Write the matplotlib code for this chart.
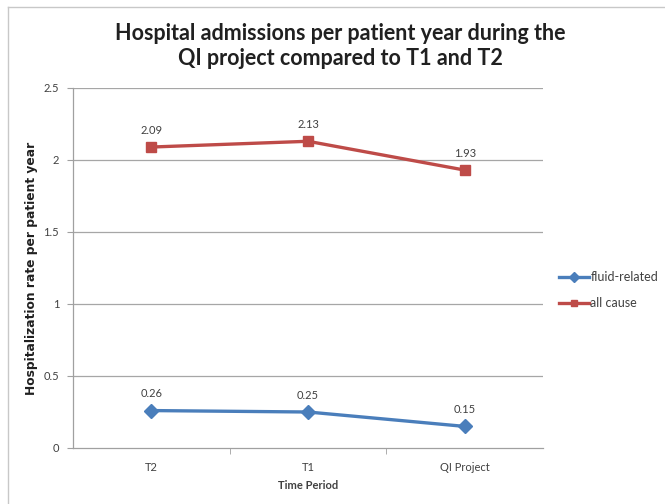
import matplotlib
matplotlib.use("Agg")
import matplotlib.pyplot as plt
from matplotlib.lines import Line2D

categories = ["T2", "T1", "QI Project"]
fluid_related = [0.26, 0.25, 0.15]
all_cause = [2.09, 2.13, 1.93]
y_ticks = [0, 0.5, 1, 1.5, 2, 2.5]
y_tick_labels = ["0", "0.5", "1", "1.5", "2", "2.5"]

title = "Hospital admissions per patient year during the\nQI project compared to T1 and T2"
xlabel = "Time Period"
ylabel = "Hospitalization rate per patient year"

plt.rcParams['font.family'] = ['Lato', 'DejaVu Sans']

fig = plt.figure(figsize=(6.65, 5.04), dpi=100)
W, H = 665, 504
ax = fig.add_axes([73 / W, (H - 448) / H, (543 - 73) / W, (448 - 88) / H])

blue = "#4A7EBB"
red = "#BE4B48"
x = list(range(len(categories)))

ax.plot(x, fluid_related, color=blue, lw=2.4, marker="D", ms=7, label="fluid-related", zorder=3)
ax.plot(x, all_cause, color=red, lw=2.4, marker="s", ms=7.5, label="all cause", zorder=3)

for xi, v in zip(x, fluid_related):
    ax.annotate(f"{v:.2f}", (xi, v), xytext=(0, 8), textcoords="offset points",
                ha="center", va="bottom", fontsize=8, color="#404040")
for xi, v in zip(x, all_cause):
    ax.annotate(f"{v:.2f}", (xi, v), xytext=(0, 8), textcoords="offset points",
                ha="center", va="bottom", fontsize=8, color="#404040")

ax.set_xlim(-0.5, len(categories) - 0.5)
ax.set_ylim(0, 2.5)
ax.set_yticks(y_ticks)
ax.set_yticklabels(y_tick_labels)
ax.set_xticks(x)
ax.set_xticklabels(categories)
ax.set_xticks([0.5, 1.5], minor=True)
ax.tick_params(axis="x", which="major", length=0, pad=10, labelsize=8, labelcolor="#404040")
ax.tick_params(axis="x", which="minor", length=4, color="#A0A0A0", direction="out")
ax.tick_params(axis="y", length=4, color="#A0A0A0", direction="out", pad=6, labelsize=8, labelcolor="#404040")

for yv in y_ticks[1:]:
    ax.axhline(yv, color="#A6A6A6", lw=0.9, zorder=1)

for s in ["top", "right"]:
    ax.spines[s].set_visible(False)
for s in ["left", "bottom"]:
    ax.spines[s].set_color("#A0A0A0")
    ax.spines[s].set_linewidth(0.9)

ax.set_xlabel(xlabel, fontsize=8, fontweight="bold", color="#404040", labelpad=5)
ax.set_ylabel(ylabel, fontsize=8.8, fontweight="bold", color="#202020", labelpad=4,
              family=["DejaVu Sans"])

fig.text(340 / W, 1 - 46 / H, title, ha="center", va="center", fontsize=15.5,
         fontweight="bold", color="#202020", linespacing=1.2)

leg = fig.legend(handles=[
    Line2D([], [], color=blue, lw=2.4, marker="D", ms=5),
    Line2D([], [], color=red, lw=2.4, marker="s", ms=5)],
    labels=["fluid-related", "all cause"],
    loc="center left", bbox_to_anchor=(548 / W, 1 - 290 / H), frameon=False,
    fontsize=9, handlelength=2.4, handletextpad=0.1, labelspacing=1.1,
    labelcolor="#404040")

# outer frame lines
fig.add_artist(Line2D([8 / W, 1], [1 - 7 / H, 1 - 7 / H], color="#C8C8C8", lw=1))
fig.add_artist(Line2D([8 / W, 8 / W], [0, 1 - 7 / H], color="#C8C8C8", lw=1))

fig.savefig("out.png", dpi=100, facecolor="white")
